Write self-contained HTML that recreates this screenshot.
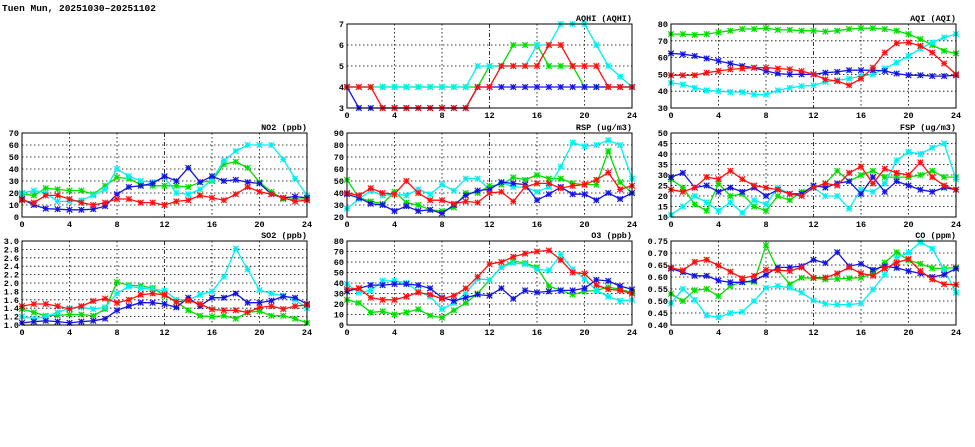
<!DOCTYPE html>
<html><head><meta charset="utf-8">
<style>
html,body{margin:0;padding:0;background:#fff;}
svg{display:block;font-family:"Liberation Mono",monospace;font-weight:bold;}
</style></head>
<body>
<svg id="chart" width="975" height="447" viewBox="0 0 975 447" xmlns="http://www.w3.org/2000/svg">
<text x="2" y="11" font-size="9.5" fill="#000">Tuen Mun, 20251030–20251102</text>
</svg>
<script>
const hours=[0,1,2,3,4,5,6,7,8,9,10,11,12,13,14,15,16,17,18,19,20,21,22,23,24];
const xTicks=[0,4,8,12,16,20,24];
const seriesNames=['green','cyan','blue','red'];
const seriesColors={green:'#00dd00',cyan:'#00f0f0',blue:'#1515e0',red:'#ff1010'};

const aqhiBlue=[4,3,3,3,3,3,3,3,3,3,3,4,4,4,4,4,4,4,4,4,4,4,4,4,4];
const aqhiRed=[4,4,4,3,3,3,3,3,3,3,3,4,4,5,5,5,5,6,6,5,5,5,4,4,4];
const aqhiGreen=[4,4,4,4,4,4,4,4,4,4,4,4,5,5,6,6,6,5,5,5,4,4,4,4,4];
const aqhiCyan=[4,4,4,4,4,4,4,4,4,4,4,5,5,5,5,5,6,6,7,7,7,6,5,4.5,4];
const aqhiTicks=[3,4,5,6,7];

const aqiGreen=[74,74,73.5,74,75,76,77,77,77.5,76.5,76.5,76,76,75.5,76,77,77.5,77.5,77,76,74,71,67.5,64,62.5];
const aqiBlue=[62.5,62,61,59.5,58,56.5,55,54,52,50.5,50,50,50,51,51.5,52.5,52.5,52.5,52,50.5,49.5,49.5,49,49,49.5];
const aqiRed=[49.5,49.5,49.5,51,52,53,53.5,54,54,53.5,53,52,50,47,46,43.5,47.5,54,63,68.5,69,67,63,56.5,50];
const aqiCyan=[45,44,42,40.5,40,39.5,39.5,38,38,40.5,42,43,43.5,45.5,46.5,47.5,49,50,53.5,57,61,65.5,69,72,74];
const aqiTicks=[30,40,50,60,70,80];

const no2Blue=[15,10,7,6.5,6,6,6.5,9,19,25,26,28,34,30,41,29,34,30,31,29,28,19,16,17,16];
const no2Red=[14,12,18,18,15,12,10,12,15,15,12,12,10,13,14,18,16,14,19,25,21,19,16,13,14];
const no2Green=[19,18,24,23,22,22,19,26,33,32,27,26,26,26,25,29,30,44,46,41,29,21,15,15,15];
const no2Cyan=[20,22,20,13,13,14,18,23,40,34,30,29,33,20,19,23,31,47,55,60,60,60,48,32,18];
const no2Ticks=[0,10,20,30,40,50,60,70];

const rspCyan=[27,35,42,38,39,38,43,39,47,42,52,52,43,49,45,45,41,45,62,82,79,80,84,80,52];
const rspRed=[40,38,44,40,39,50,40,34,34,31,33,32,40,41,33,45,48,48,44,46,47,51,57,43,46];
const rspGreen=[51,36,33,31,41,32,30,26,25,28,40,40,46,47,53,51,55,52,52,48,47,47,75,49,40];
const rspBlue=[39,36,31,30,25,29,25,26,23,30,38,42,43,49,48,47,34,39,45,39,39,34,40,35,40];
const rspTicks=[20,30,40,50,60,70,80,90];

const fspBlue=[29,31,24,25,22,24,22,24,20,23,21,21,25,24,26,27,21,29,22,27,25,23,22,24,23];
const fspRed=[23,22,24,29,28,32,28,25,24,23,21,20,24,26,25,31,34,26,33,31,30,36,29,25,23];
const fspGreen=[28,24,16,13,26,20,21,15,13,20,18,22,24,26,32,27,30,32,29,29,29,30,32,29,29];
const fspCyan=[11,15,20,17,13,17,12,18,16,24,21,21,24,20,20,14,23,22,26,37,41,40,43,45,28];
const fspTicks=[10,15,20,25,30,35,40,45,50];

const so2Blue=[1.05,1.08,1.1,1.08,1.05,1.08,1.1,1.15,1.35,1.45,1.53,1.53,1.5,1.42,1.65,1.45,1.65,1.65,1.75,1.53,1.53,1.58,1.68,1.65,1.5];
const so2Red=[1.45,1.5,1.5,1.45,1.38,1.45,1.57,1.63,1.53,1.6,1.72,1.75,1.72,1.55,1.58,1.5,1.37,1.35,1.35,1.3,1.42,1.45,1.38,1.45,1.48];
const so2Green=[1.38,1.3,1.22,1.23,1.25,1.25,1.22,1.38,2.02,1.95,1.93,1.88,1.7,1.55,1.35,1.22,1.2,1.22,1.15,1.3,1.33,1.22,1.22,1.15,1.05];
const so2Cyan=[1.2,1.15,1.2,1.3,1.4,1.42,1.38,1.42,1.75,1.92,1.88,1.85,1.82,1.6,1.6,1.72,1.8,2.15,2.82,2.32,1.83,1.75,1.7,1.6,1.4];
const so2Ticks=['1.0','1.2','1.4','1.6','1.8','2.0','2.2','2.4','2.6','2.8','3.0'];

const o3Blue=[32,35,38,38,39,39,38,35,26,23,26,29,28,35,25,33,31,32,33,33,35,43,42,37,34];
const o3Red=[34,35,26,24,24,27,31,29,25,28,35,46,58,60,65,68,70,71,62,50,49,38,34,33,30];
const o3Green=[24,21,12,13,10,12,15,9,7,14,21,30,43,55,61,59,55,37,33,29,32,33,36,34,31];
const o3Cyan=[39,31,33,42,42,40,32,27,15,21,30,44,43,55,59,58,53,52,67,53,44,33,27,23,24];
const o3Ticks=[0,10,20,30,40,50,60,70,80];

const coBlue=[.635,.62,.605,.605,.585,.578,.578,.585,.61,.64,.64,.645,.672,.658,.703,.645,.655,.63,.645,.638,.625,.615,.6,.61,.635];
const coRed=[.638,.628,.663,.672,.648,.622,.595,.605,.63,.628,.625,.64,.597,.598,.615,.64,.615,.605,.635,.66,.675,.625,.59,.57,.568];
const coGreen=[.53,.5,.545,.55,.52,.563,.58,.58,.733,.628,.57,.597,.595,.59,.592,.595,.597,.615,.66,.703,.67,.655,.637,.635,.64];
const coCyan=[.49,.55,.505,.44,.432,.45,.455,.5,.555,.563,.555,.535,.502,.488,.485,.485,.49,.548,.61,.68,.702,.745,.718,.63,.535];
const coTicks=['0.40','0.45','0.50','0.55','0.60','0.65','0.70','0.75'];

const panels=[
 {name:'aqhi',title:'AQHI (AQHI)',x:347,y:24,ticks:aqhiTicks,data:{green:aqhiGreen,cyan:aqhiCyan,blue:aqhiBlue,red:aqhiRed}},
 {name:'aqi',title:'AQI (AQI)',x:671,y:24,ticks:aqiTicks,data:{green:aqiGreen,cyan:aqiCyan,blue:aqiBlue,red:aqiRed}},
 {name:'no2',title:'NO2 (ppb)',x:22,y:133,ticks:no2Ticks,data:{green:no2Green,cyan:no2Cyan,blue:no2Blue,red:no2Red}},
 {name:'rsp',title:'RSP (ug/m3)',x:347,y:133,ticks:rspTicks,data:{green:rspGreen,cyan:rspCyan,blue:rspBlue,red:rspRed}},
 {name:'fsp',title:'FSP (ug/m3)',x:671,y:133,ticks:fspTicks,data:{green:fspGreen,cyan:fspCyan,blue:fspBlue,red:fspRed}},
 {name:'so2',title:'SO2 (ppb)',x:22,y:241,ticks:so2Ticks,data:{green:so2Green,cyan:so2Cyan,blue:so2Blue,red:so2Red}},
 {name:'o3',title:'O3 (ppb)',x:347,y:241,ticks:o3Ticks,data:{green:o3Green,cyan:o3Cyan,blue:o3Blue,red:o3Red}},
 {name:'co',title:'CO (ppm)',x:671,y:241,ticks:coTicks,data:{green:coGreen,cyan:coCyan,blue:coBlue,red:coRed}}
];
const W=285,H=84;
const svg=document.getElementById('chart');
const NS='http://www.w3.org/2000/svg';
function mk(tag,attrs,parent){const e=document.createElementNS(NS,tag);for(const k in attrs)e.setAttribute(k,attrs[k]);parent.appendChild(e);return e;}

panels.forEach(p=>{
  const g=mk('g',{},svg);
  
  
  const tv=p.ticks.map(Number);
  const ymin=tv[0],ymax=tv[tv.length-1];
  const sx=v=>p.x+v/24*W;
  const sy=v=>p.y+H-(v-ymin)/(ymax-ymin)*H;
  // grid
  tv.forEach((t,i)=>{
    if(i>0&&i<tv.length-1){
      const l=mk('line',{x1:p.x,x2:p.x+W,y1:sy(t),y2:sy(t),stroke:'#000','stroke-width':0.8,'stroke-dasharray':'1.5,2.5'},g);
      
      
    }
    const tx=mk('text',{x:p.x-3,y:sy(t)+3,'font-size':8.5,'text-anchor':'end',fill:'#000'},g);
    tx.textContent=p.ticks[i];
    
    
  });
  xTicks.forEach((t,i)=>{
    if(i>0&&i<xTicks.length-1){
      const l=mk('line',{x1:sx(t),x2:sx(t),y1:p.y,y2:p.y+H,stroke:'#000','stroke-width':0.8,'stroke-dasharray':t===12?'4,2,1,2':'1.5,2.5'},g);
      
      
    }
    const tx=mk('text',{x:sx(t),y:p.y+H+10,'font-size':8.5,'text-anchor':'middle',fill:'#000'},g);
    tx.textContent=t;
    
    
  });
  const title=mk('text',{x:p.x+W,y:p.y-3,'font-size':8.5,'text-anchor':'end',fill:'#000'},g);
  title.textContent=p.title;
  
  
  seriesNames.forEach(s=>{
    const vals=p.data[s];const c=seriesColors[s];
    const pts=vals.map((v,i)=>sx(hours[i]).toFixed(1)+','+sy(v).toFixed(1)).join(' ');
    const pl=mk('polyline',{points:pts,fill:'none',stroke:c,'stroke-width':1.3},g);
    
    
    vals.forEach((v,i)=>{
      const cx=sx(hours[i]),cy=sy(v),r=2.8;
      const m=mk('path',{d:`M${cx-r},${cy}H${cx+r}M${cx},${cy-r}V${cy+r}M${cx-r},${cy-r}L${cx+r},${cy+r}M${cx-r},${cy+r}L${cx+r},${cy-r}`,stroke:c,'stroke-width':1.2,fill:'none'},g);
      
      
    });
  });
  const fr=mk('rect',{x:p.x,y:p.y,width:W,height:H,fill:'none',stroke:'#000','stroke-width':1},g);
  
  
});
</script>
</body></html>
